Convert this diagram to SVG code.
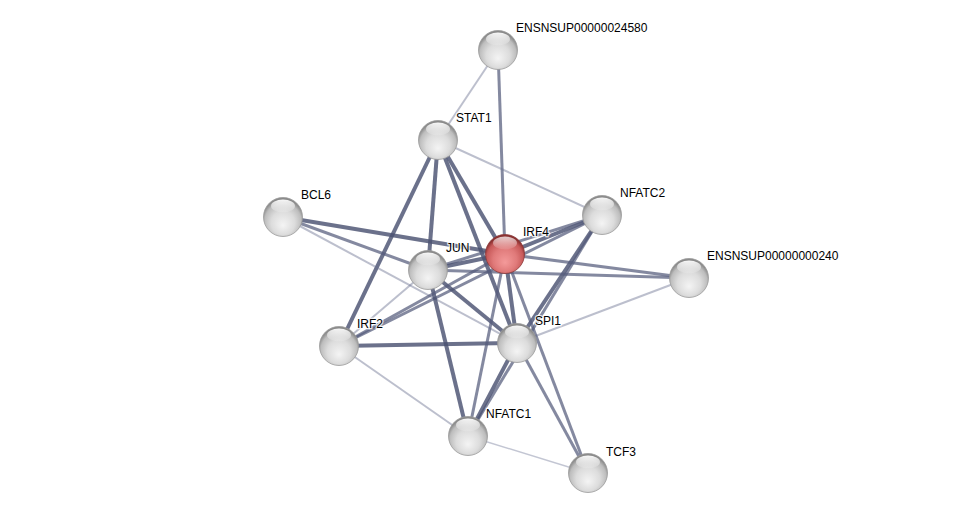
<svg xmlns="http://www.w3.org/2000/svg" width="976" height="519" viewBox="0 0 976 519">
<defs>
<radialGradient id="gball" cx="50%" cy="60%" r="55%" fx="50%" fy="72%">
<stop offset="0" stop-color="#f4f4f4"/>
<stop offset="0.55" stop-color="#dcdcdc"/>
<stop offset="0.85" stop-color="#bdbdbd"/>
<stop offset="1" stop-color="#8a8a8a"/>
</radialGradient>
<radialGradient id="rball" cx="50%" cy="60%" r="55%" fx="50%" fy="72%">
<stop offset="0" stop-color="#f49a9a"/>
<stop offset="0.55" stop-color="#e07a7a"/>
<stop offset="0.85" stop-color="#c85a5a"/>
<stop offset="1" stop-color="#8a3030"/>
</radialGradient>
<linearGradient id="hl" x1="0" y1="0" x2="0" y2="1">
<stop offset="0" stop-color="#ffffff" stop-opacity="0.95"/>
<stop offset="1" stop-color="#ffffff" stop-opacity="0.1"/>
</linearGradient>
<symbol id="ball" viewBox="-20 -20 40 40" overflow="visible">
<circle r="19.5" fill="url(#gball)" stroke="#9a9a9a" stroke-width="0.8"/>
<ellipse cx="0" cy="-11" rx="12" ry="6.5" fill="url(#hl)"/>
</symbol>
<symbol id="rballs" viewBox="-20 -20 40 40" overflow="visible">
<circle r="19.5" fill="url(#rball)" stroke="#8a3a3a" stroke-width="0.8"/>
<ellipse cx="0" cy="-11" rx="12" ry="6.5" fill="url(#hl)" opacity="0.8"/>
</symbol>
</defs>
<style>
.e1{stroke:#4a5272;stroke-width:4;stroke-opacity:0.82}
.e2{stroke:#545c7c;stroke-width:3;stroke-opacity:0.72}
.e3{stroke:#6a7090;stroke-width:2;stroke-opacity:0.45}
.e4{stroke:#6a7090;stroke-width:1.5;stroke-opacity:0.4}
.lbl{font-family:"Liberation Sans",Arial,sans-serif;font-size:12px;fill:#000;stroke:#fff;stroke-width:2.5;stroke-opacity:0.8;paint-order:stroke}
</style>
<rect width="976" height="519" fill="#fff"/>
<g id="edges" fill="none">
<line class="e3" x1="498" y1="50" x2="438" y2="140"/>
<line class="e2" x1="498" y1="50" x2="505" y2="254"/>
<line class="e3" x1="438" y1="140" x2="602" y2="215"/>
<line class="e1" x1="438" y1="140" x2="339" y2="346"/>
<line class="e1" x1="438" y1="140" x2="428" y2="270"/>
<line class="e1" x1="438" y1="140" x2="505" y2="254"/>
<line class="e1" x1="438" y1="140" x2="517" y2="343"/>
<line class="e1" x1="283" y1="217" x2="505" y2="254"/>
<line class="e2" x1="283" y1="217" x2="428" y2="270"/>
<line class="e3" x1="283" y1="217" x2="517" y2="343"/>
<line class="e1" x1="505" y1="254" x2="602" y2="215"/>
<line class="e2" x1="428" y1="270" x2="602" y2="215"/>
<line class="e2" x1="339" y1="346" x2="602" y2="215"/>
<line class="e1" x1="602" y1="215" x2="517" y2="343"/>
<line class="e2" x1="602" y1="215" x2="468" y2="436"/>
<line class="e2" x1="505" y1="254" x2="689" y2="278"/>
<line class="e2" x1="428" y1="270" x2="689" y2="278"/>
<line class="e3" x1="517" y1="343" x2="689" y2="278"/>
<line class="e1" x1="428" y1="270" x2="505" y2="254"/>
<line class="e1" x1="428" y1="270" x2="517" y2="343"/>
<line class="e1" x1="428" y1="270" x2="468" y2="436"/>
<line class="e3" x1="339" y1="346" x2="428" y2="270"/>
<line class="e2" x1="339" y1="346" x2="505" y2="254"/>
<line class="e1" x1="339" y1="346" x2="517" y2="343"/>
<line class="e3" x1="339" y1="346" x2="468" y2="436"/>
<line class="e1" x1="505" y1="254" x2="517" y2="343"/>
<line class="e2" x1="505" y1="254" x2="468" y2="436"/>
<line class="e2" x1="505" y1="254" x2="588" y2="473"/>
<line class="e1" x1="517" y1="343" x2="468" y2="436"/>
<line class="e2" x1="517" y1="343" x2="588" y2="473"/>
<line class="e4" x1="468" y1="436" x2="588" y2="473"/>
</g>
<g id="node-ENSNSUP00000024580"><use href="#ball" x="478" y="30" width="40" height="40"/><text class="lbl" x="516" y="32">ENSNSUP00000024580</text></g>
<g id="node-STAT1"><use href="#ball" x="418" y="120" width="40" height="40"/><text class="lbl" x="456" y="122">STAT1</text></g>
<g id="node-BCL6"><use href="#ball" x="263" y="197" width="40" height="40"/><text class="lbl" x="301" y="199">BCL6</text></g>
<g id="node-NFATC2"><use href="#ball" x="582" y="195" width="40" height="40"/><text class="lbl" x="620" y="197">NFATC2</text></g>
<g id="node-JUN"><use href="#ball" x="408" y="250" width="40" height="40"/><text class="lbl" x="446" y="252">JUN</text></g>
<g id="node-IRF4"><use href="#rballs" x="485" y="234" width="40" height="40"/><text class="lbl" x="523" y="236">IRF4</text></g>
<g id="node-ENSNSUP00000000240"><use href="#ball" x="669" y="258" width="40" height="40"/><text class="lbl" x="707" y="260">ENSNSUP00000000240</text></g>
<g id="node-IRF2"><use href="#ball" x="319" y="326" width="40" height="40"/><text class="lbl" x="357" y="328">IRF2</text></g>
<g id="node-SPI1"><use href="#ball" x="497" y="323" width="40" height="40"/><text class="lbl" x="535" y="325">SPI1</text></g>
<g id="node-NFATC1"><use href="#ball" x="448" y="416" width="40" height="40"/><text class="lbl" x="486" y="418">NFATC1</text></g>
<g id="node-TCF3"><use href="#ball" x="568" y="453" width="40" height="40"/><text class="lbl" x="606" y="456">TCF3</text></g>
</svg>
